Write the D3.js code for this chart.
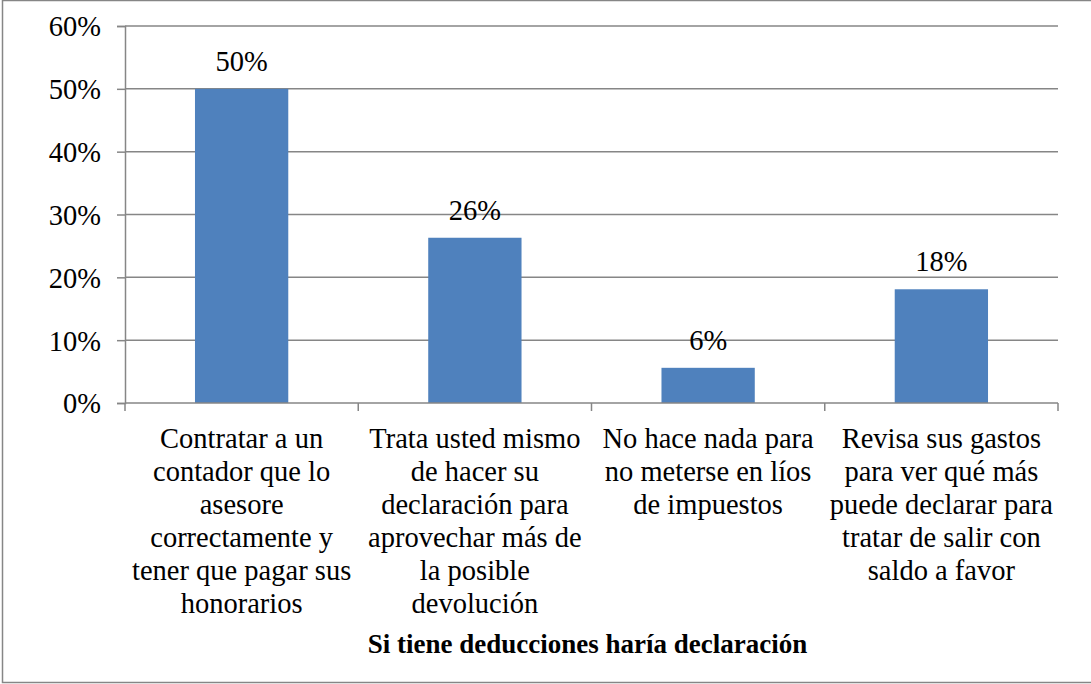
<!DOCTYPE html>
<html>
<head>
<meta charset="utf-8">
<script src="https://cdn.jsdelivr.net/npm/d3@7"></script>
<style>
  html, body { margin: 0; padding: 0; background: #fff; }
  svg { display: block; }
</style>
</head>
<body>
<svg id="chart" width="1091" height="684"></svg>
<script>
// Survey answers: what respondents would do if they have deductions
const categories = [
  "Contratar a un contador que lo asesore correctamente y tener que pagar sus honorarios",
  "Trata usted mismo de hacer su declaración para aprovechar más de la posible devolución",
  "No hace nada para no meterse en líos de impuestos",
  "Revisa sus gastos para ver qué más puede declarar para tratar de salir con saldo a favor"
];
const shares = [0.50, 0.263, 0.056, 0.181];
const yTicks = [0, 0.1, 0.2, 0.3, 0.4, 0.5, 0.6];
const axisTitle = "Si tiene deducciones haría declaración";

const FONT = "'Liberation Serif', 'Times New Roman', 'DejaVu Serif', serif";
const FS = 28.5;
const svg = d3.select("#chart").attr("font-family", FONT);
const W = 1091, H = 684;
const plotLeft = 125, plotRight = 1058, plotTop = 26, plotBottom = 403;
const gray = "#868686";
const pct = d3.format(".0%");

// outer frame
svg.append("rect")
  .attr("x", 2.5).attr("y", 0.5)
  .attr("width", W + 10).attr("height", 682)
  .attr("fill", "#fff").attr("stroke", gray).attr("stroke-width", 1.5);

const x = d3.scaleBand().domain(d3.range(categories.length))
  .range([plotLeft, plotRight]).paddingInner(0.6).paddingOuter(0.3);
const xOuter = d3.scaleBand().domain(d3.range(categories.length))
  .range([plotLeft, plotRight]);
const y = d3.scaleLinear().domain([0, 0.6]).range([plotBottom, plotTop]);

// horizontal gridlines
svg.append("g").selectAll("line").data(yTicks.filter(d => d > 0)).join("line")
  .attr("x1", plotLeft).attr("x2", plotRight)
  .attr("y1", d => y(d)).attr("y2", d => y(d))
  .attr("stroke", gray).attr("stroke-width", 1.5);

// bars
svg.append("g").selectAll("rect").data(shares).join("rect")
  .attr("x", (d, i) => x(i))
  .attr("width", x.bandwidth())
  .attr("y", d => y(d))
  .attr("height", d => plotBottom - y(d))
  .attr("fill", "#4F81BD");

// value labels
svg.append("g").selectAll("text").data(shares).join("text")
  .attr("x", (d, i) => x(i) + x.bandwidth() / 2)
  .attr("y", d => y(d) - 18)
  .attr("text-anchor", "middle")
  .attr("font-family", FONT)
  .attr("font-size", FS)
  .attr("fill", "#000")
  .text(d => pct(d));

// y axis
const yAxis = svg.append("g")
  .attr("transform", `translate(${plotLeft},0)`)
  .call(d3.axisLeft(y).tickValues(yTicks).tickFormat(pct).tickSize(8).tickPadding(16));
yAxis.attr("font-family", FONT).attr("font-size", FS);
yAxis.select(".domain").attr("stroke", gray).attr("stroke-width", 1.5);
yAxis.selectAll(".tick line").attr("stroke", gray).attr("stroke-width", 1.5);
yAxis.selectAll(".tick text")
  .attr("font-family", FONT)
  .attr("font-size", FS)
  .attr("fill", "#000").attr("dy", "0.35em");

// x axis baseline with category boundary ticks
const xg = svg.append("g");
xg.append("line")
  .attr("x1", plotLeft).attr("x2", plotRight)
  .attr("y1", plotBottom).attr("y2", plotBottom)
  .attr("stroke", gray).attr("stroke-width", 1.5);
const bounds = d3.range(categories.length).map(i => xOuter(i)).concat([plotRight]);
xg.selectAll("line.tick").data(bounds).join("line")
  .attr("class", "tick")
  .attr("x1", d => d).attr("x2", d => d)
  .attr("y1", plotBottom).attr("y2", plotBottom + 8)
  .attr("stroke", gray).attr("stroke-width", 1.5);

// category labels wrapped to the band width
const maxW = xOuter.bandwidth() - 4;
const lineH = 33;
categories.forEach((c, i) => {
  const cx = xOuter(i) + xOuter.bandwidth() / 2;
  const t = svg.append("text")
    .attr("text-anchor", "middle")
    .attr("font-family", FONT)
    .attr("font-size", FS)
    .attr("fill", "#000")
    .attr("x", cx)
    .attr("y", 448);
  const words = c.split(" ");
  let line = [];
  let tspan = t.append("tspan").attr("x", cx).attr("dy", 0);
  words.forEach(w => {
    line.push(w);
    tspan.text(line.join(" "));
    if (tspan.node().getComputedTextLength() > maxW && line.length > 1) {
      line.pop();
      tspan.text(line.join(" "));
      line = [w];
      tspan = t.append("tspan")
        .attr("x", cx)
        .attr("dy", lineH)
        .text(w);
    }
  });
});

// axis title
svg.append("text")
  .attr("x", (plotLeft + plotRight) / 2 - 4)
  .attr("y", 653)
  .attr("text-anchor", "middle")
  .attr("font-family", FONT)
  .attr("font-size", 27)
  .attr("font-weight", "bold")
  .attr("fill", "#000")
  .text(axisTitle);
</script>
</body>
</html>
